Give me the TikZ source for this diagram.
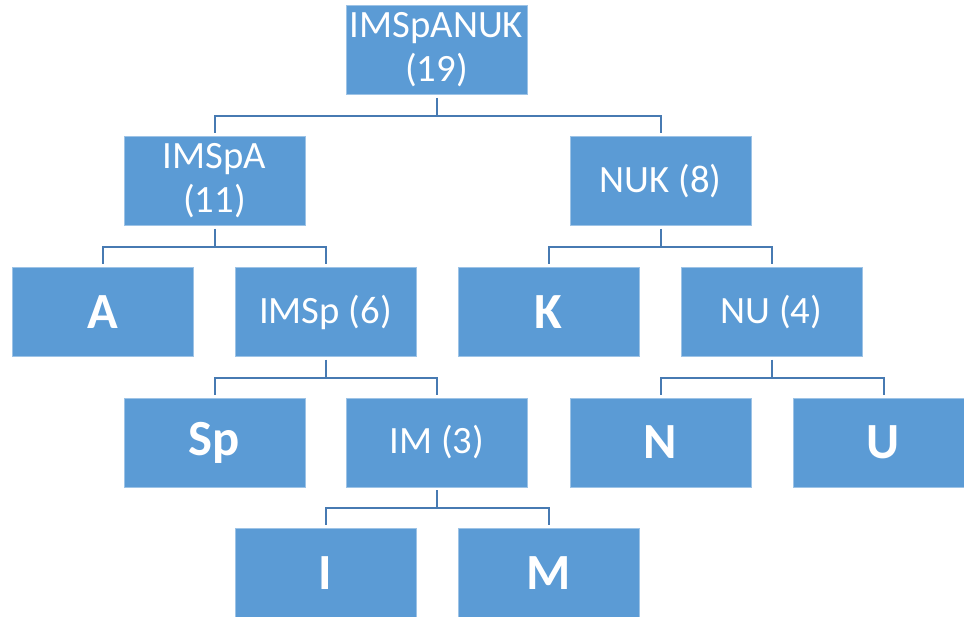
\documentclass[tikz,border=0pt]{standalone}
\usepackage{fontspec}
\setmainfont{Carlito}
\usepackage{tikz}

\definecolor{boxblue}{RGB}{91,155,213}
\definecolor{linkblue}{RGB}{71,122,178}

\begin{document}
\begin{tikzpicture}[
        x=0.75pt, y=-0.75pt,
        box/.style={rectangle,fill=boxblue,draw=boxblue!60!white,line width=0.4pt,
            text=white,minimum width=135.75pt,minimum height=66.75pt,inner sep=0pt,align=center},
        cluster/.style={box,font=\fontsize{29}{33}\selectfont},
        leaf/.style={box,font=\fontsize{38}{44}\selectfont\bfseries},
        link/.style={draw=linkblue,line width=1.5pt,shorten <=2.25pt,shorten >=2.25pt}
    ]
        \useasboundingbox (0,0) rectangle (964,617);

        \node [cluster] (root)  at (436.5,50)  {IMSpANUK\\(19)};
        \node [cluster] (imspa) at (214.5,181) {IMSpA\\(11)};
        \node [cluster] (nuk)   at (660.5,181) {NUK (8)};

        \node [leaf]    (a)    at (102.5,312) {A};
        \node [cluster] (imsp) at (325.5,312) {IMSp (6)};
        \node [leaf]    (k)    at (548.5,312) {K};
        \node [cluster] (nu)   at (771.5,312) {NU (4)};

        \node [leaf]    (sp) at (214.5,442.5) {Sp};
        \node [cluster] (im) at (437,442.5)   {IM (3)};
        \node [leaf]    (n)  at (660.5,442.5) {N};
        \node [leaf]    (u)  at (883.5,442.5) {U};

        \node [leaf] (i) at (325.5,573) {I};
        \node [leaf] (m) at (548.5,573) {M};

        \foreach \p/\c in {root/imspa,root/nuk,imspa/a,imspa/imsp,nuk/k,nuk/nu,
                           imsp/sp,imsp/im,nu/n,nu/u,im/i,im/m}
            \draw [link] (\p.south) -- ++(0,21) -| (\c.north);
    \end{tikzpicture}
\end{document}
